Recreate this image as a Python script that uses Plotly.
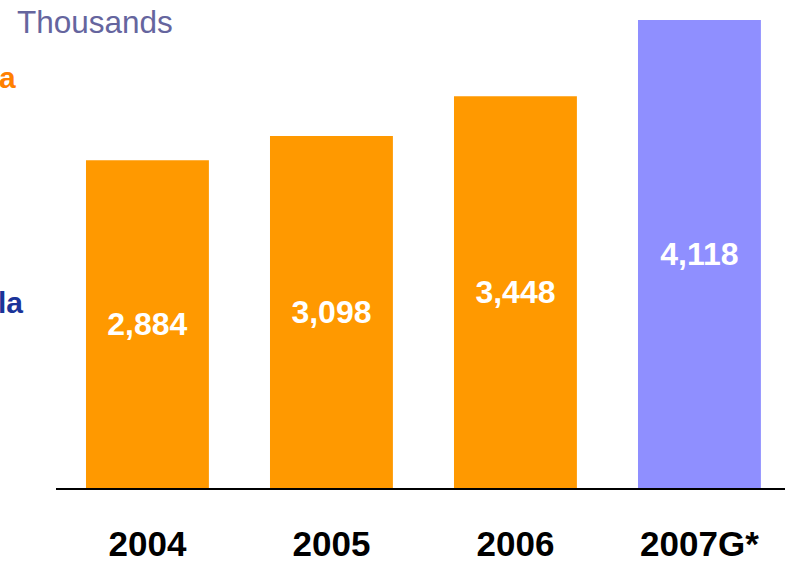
import plotly.graph_objects as go

# Annual figures, in thousands
years = ["2004", "2005", "2006", "2007G*"]
values = [2884, 3098, 3448, 4118]
bar_colors = ["#FF9900", "#FF9900", "#FF9900", "#8F8FFF"]
value_labels = ["2,884", "3,098", "3,448", "4,118"]

fig = go.Figure(
    go.Bar(
        x=years,
        y=values,
        marker=dict(color=bar_colors, line=dict(width=0)),
        width=0.668,
        text=value_labels,
        textposition="inside",
        insidetextanchor="middle",
        textangle=0,
        textfont=dict(family="Liberation Sans, Arial, sans-serif", size=32, color="white", weight="bold"),
        cliponaxis=False,
    )
)

fig.update_layout(
    width=785,
    height=563,
    margin=dict(l=56, r=0, t=0, b=75, autoexpand=False),
    paper_bgcolor="white",
    plot_bgcolor="white",
    showlegend=False,
    font=dict(family="Liberation Sans, Arial, sans-serif"),
    xaxis=dict(
        type="category",
        range=[-0.497, 3.465],
        automargin=False,
        showline=True,
        linecolor="black",
        linewidth=2,
        showgrid=False,
        zeroline=False,
        ticks="",
        ticklabelstandoff=24,
        tickfont=dict(size=35, color="black", weight="bold"),
    ),
    yaxis=dict(
        range=[0, 4294],
        visible=False,
        automargin=False,
        showgrid=False,
        zeroline=False,
    ),
    annotations=[
        dict(
            text="Thousands",
            xref="paper", yref="paper",
            x=(15 - 56) / 729, y=(488 - 22) / 488,
            xanchor="left", yanchor="middle",
            showarrow=False,
            font=dict(size=31.5, color="#65659E"),
        ),
        dict(
            text="a",
            xref="paper", yref="paper",
            x=(-3 - 56) / 729, y=(488 - 77) / 488,
            xanchor="left", yanchor="middle",
            showarrow=False,
            font=dict(size=30, color="#FF8000", weight="bold"),
        ),
        dict(
            text="la",
            xref="paper", yref="paper",
            x=(-4 - 56) / 729, y=(488 - 302) / 488,
            xanchor="left", yanchor="middle",
            showarrow=False,
            font=dict(size=30, color="#1A3399", weight="bold"),
        ),
    ],
)

fig.write_html("out.html")
